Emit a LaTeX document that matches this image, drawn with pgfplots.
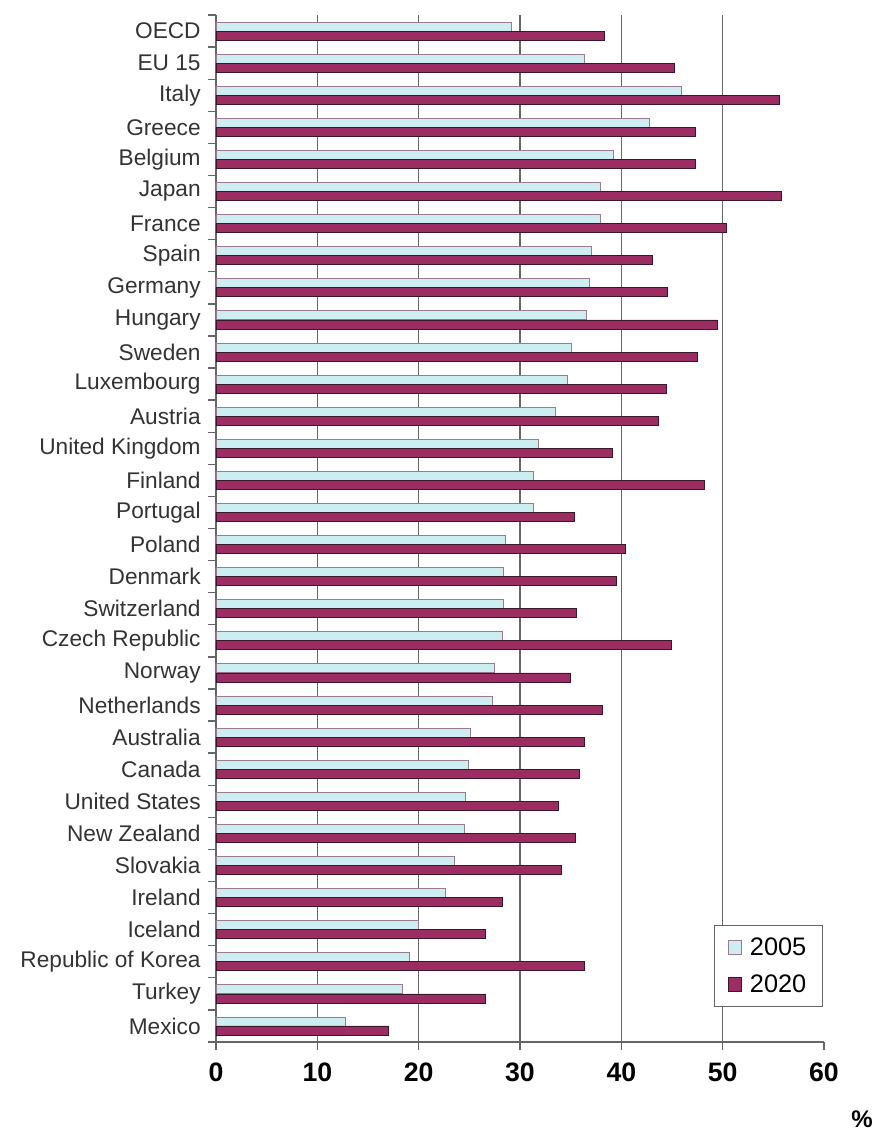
\documentclass[border=0pt]{standalone}
\usepackage{pgfplots}
\usepackage{pgfplotstable}
\pgfplotsset{compat=1.18}
\usepackage{fontspec}
\setmainfont{Liberation Sans}
\definecolor{cA}{HTML}{CCEEF0}
\definecolor{cAe}{HTML}{9C7B90}
\definecolor{cB}{HTML}{9B2D62}
\definecolor{cBe}{HTML}{3E1428}
\definecolor{gridc}{HTML}{666666}
\definecolor{labc}{HTML}{333333}

\pgfplotstableread{
idx a b
0 29.2 38.3
1 36.4 45.2
2 45.9 55.6
3 42.8 47.3
4 39.2 47.3
5 37.9 55.8
6 37.9 50.4
7 37.0 43.1
8 36.8 44.5
9 36.6 49.5
10 35.1 47.5
11 34.7 44.4
12 33.5 43.7
13 31.8 39.1
14 31.3 48.2
15 31.3 35.4
16 28.6 40.4
17 28.4 39.5
18 28.4 35.6
19 28.3 44.9
20 27.5 35.0
21 27.3 38.1
22 25.1 36.4
23 24.9 35.9
24 24.6 33.8
25 24.5 35.5
26 23.5 34.1
27 22.6 28.3
28 20.0 26.6
29 19.1 36.4
30 18.4 26.6
31 12.8 17.0
}\data

\begin{document}
\begin{tikzpicture}
\begin{axis}[
  name=ax,
  at={(0,0)}, anchor=south west,
  scale only axis, width=456pt, height=770.25pt,
  xbar, y dir=reverse,
  xmin=0, xmax=60, ymin=-0.5, ymax=31.5,
  axis x line*=bottom, axis y line*=left,
  axis line style={-, gridc, line width=1pt},
  tick align=outside,
  tick style={gridc, line width=1pt},
  /pgf/number format/assume math mode=true,
  xtick={0,10,...,60},
  major tick length=6pt,
  xticklabel style={font=\bfseries\fontsize{20}{24}\selectfont, text=black, yshift=-6pt},
  ytick={-0.5,0.5,...,31.5},
  yticklabels={},
  extra y ticks={0,...,31},
  extra y tick labels={OECD,EU 15,Italy,Greece,Belgium,Japan,France,Spain,Germany,Hungary,Sweden,Luxembourg,Austria,United Kingdom,Finland,Portugal,Poland,Denmark,Switzerland,Czech Republic,Norway,Netherlands,Australia,Canada,United States,New Zealand,Slovakia,Ireland,Iceland,Republic of Korea,Turkey,Mexico},
  extra y tick style={major tick length=0pt, yticklabel style={font=\fontsize{17}{20}\selectfont, text=labc, xshift=-8pt}},
  extra x ticks={10,20,30,40,50},
  extra x tick labels={},
  extra x tick style={grid=major, major grid style={gridc, line width=1pt}},
  legend style={at={(0.819,0.114)}, anchor=north west, draw=gridc, line width=0.8pt,
    font=\fontsize{19}{22}\selectfont, inner xsep=10pt, inner ysep=7pt, row sep=9pt},
  legend cell align=left,
  legend image code/.code={\draw[#1, line width=0.6pt] (0pt,-5pt) rectangle (10pt,5pt); \path (0pt,0pt) (14pt,0pt);},
]
\addplot[fill=cA, draw=cAe, line width=0.6pt, bar width=6.75pt, bar shift=3.4pt] table[x=a, y=idx] {\data};
\addplot[fill=cB, draw=cBe, line width=0.6pt, bar width=6.75pt, bar shift=-3.4pt] table[x=b, y=idx] {\data};
\legend{2005,2020}
\end{axis}
\node[font=\bfseries\fontsize{18}{21}\selectfont] at ([xshift=28.5pt,yshift=-57.75pt]ax.south east) {\%};
\pgfresetboundingbox
\path[use as bounding box] (-162pt,-72.75pt) rectangle (496.5pt,781.5pt);
\end{tikzpicture}
\end{document}
